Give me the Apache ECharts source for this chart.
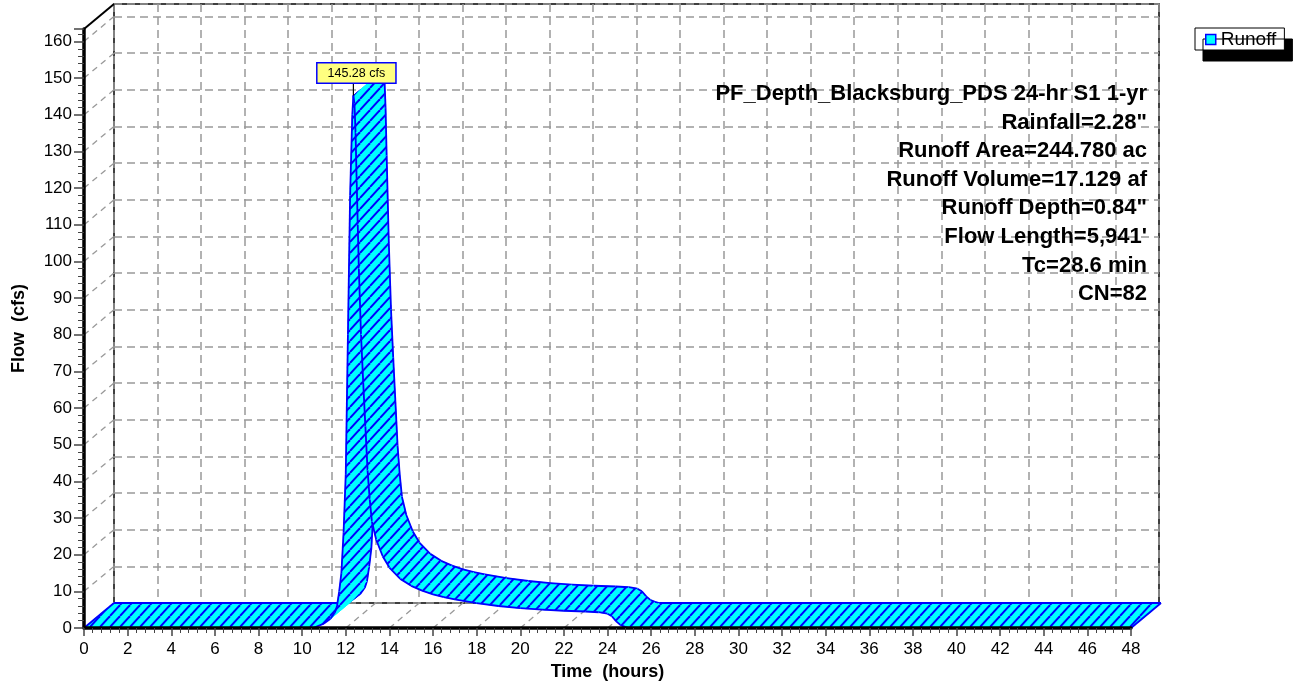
<!DOCTYPE html>
<html>
<head>
<meta charset="utf-8">
<title>Runoff hydrograph</title>
<script src="https://cdn.jsdelivr.net/npm/echarts@6/dist/echarts.min.js"></script>
<style>
html, body { margin: 0; padding: 0; background: #fff; }
#chart { width: 1294px; height: 686px; }
</style>
</head>
<body>
<div id="chart"></div>
<script>
// hydrograph (hours / cfs)
var timeHours = [0, 10.5, 11.0, 11.3, 11.5, 11.6, 11.7, 11.8, 11.9, 12.0,
	12.1, 12.2, 12.3, 12.35, 12.4, 12.45, 12.5, 12.55, 12.6, 12.7,
	12.8, 12.9, 13.0, 13.1, 13.2, 13.4, 13.7, 14.0, 14.5, 15.0,
	15.5, 16.0, 16.5, 17.0, 18.0, 19.0, 20.0, 21.0, 22.0, 23.0,
	23.6, 24.0, 24.2, 24.4, 24.6, 24.8, 25.0, 48];
var flowCfs = [0, 0, 1.2, 2.5, 4.2, 6, 10, 15, 26, 42,
	80, 118, 140, 145.28, 143, 135, 122, 110, 98, 80,
	67, 55, 43, 35, 29, 24, 19.5, 16.5, 13.4, 11.5,
	10.2, 9.2, 8.4, 7.8, 6.8, 6.0, 5.4, 5.0, 4.7, 4.5,
	4.3, 3.9, 3.2, 1.8, 0.8, 0.3, 0, 0];

var peakTime = [12.35];
var peakFlow = [145.28];

var xTickValues = [0, 2, 4, 6, 8, 10, 12, 14, 16, 18, 20, 22, 24, 26, 28, 30, 32, 34, 36, 38, 40, 42, 44, 46, 48];
var yTickValues = [0, 10, 20, 30, 40, 50, 60, 70, 80, 90, 100, 110, 120, 130, 140, 150, 160];

var infoLines = [
	'PF_Depth_Blacksburg_PDS 24-hr S1 1-yr',
	'Rainfall=2.28"',
	'Runoff Area=244.780 ac',
	'Runoff Volume=17.129 af',
	'Runoff Depth=0.84"',
	'Flow Length=5,941\'',
	'Tc=28.6 min',
	'CN=82'
];

// layout
var Y_MAX = 163.4;
var DX = 30, DY = -25;          // depth offset of the 3d back wall
var FONT = 'Arial, "Liberation Sans", sans-serif';

// hatch fill: cyan with blue diagonals
function makeHatch() {
	var c = document.createElement('canvas');
	c.width = 10; c.height = 11;
	var ctx = c.getContext('2d');
	ctx.fillStyle = '#00ffff';
	ctx.fillRect(0, 0, 10, 11);
	ctx.strokeStyle = '#0000ff';
	ctx.lineWidth = 1.9;
	[-10, 0, 10].forEach(function (o) {
		ctx.beginPath();
		ctx.moveTo(o, 11);
		ctx.lineTo(o + 10, 0);
		ctx.stroke();
	});
	return c;
}
var hatch = { image: makeHatch(), repeat: 'repeat' };

var segData = [];
for (var i = 0; i < timeHours.length - 1; i++) {
	segData.push([timeHours[i], flowCfs[i], timeHours[i + 1], flowCfs[i + 1]]);
}

var guideData = [];
yTickValues.forEach(function (v) { guideData.push([0, v]); });
xTickValues.forEach(function (t) { if (t > 0) guideData.push([t, 0]); });

function shift(p) { return [p[0] + DX, p[1] + DY]; }

var chart = echarts.init(document.getElementById('chart'));

var graphicTexts = infoLines.map(function (s, k) {
	return {
		type: 'text',
		x: 1147,
		y: 94 + k * 28.6,
		z: 20,
		style: {
			text: s,
			font: 'bold 22px ' + FONT,
			fill: '#000',
			align: 'right', textAlign: 'right',
			verticalAlign: 'middle', textVerticalAlign: 'middle'
		}
	};
});

var option = {
	animation: false,
	backgroundColor: '#fff',
	grid: [
		{ left: 84, top: 29, width: 1047, height: 599 },
		{ left: 114, top: 4, width: 1045, height: 599, show: true, borderColor: '#000', borderWidth: 1.5, backgroundColor: 'transparent' }
	],
	legend: {
		data: ['Runoff'],
		left: 1195, top: 28,
		icon: 'rect',
		itemWidth: 10, itemHeight: 10,
		padding: [2, 8, 1, 10],
		backgroundColor: '#fff',
		borderColor: '#000', borderWidth: 1,
		shadowColor: '#000', shadowBlur: 0, shadowOffsetX: 8, shadowOffsetY: 11,
		itemStyle: { color: '#00ffff', borderColor: '#0000ff', borderWidth: 1.5 },
		textStyle: { fontSize: 19, color: '#000', fontFamily: FONT }
	},
	xAxis: [{
		gridIndex: 0, type: 'value', min: 0, max: 48, interval: 2, z: 5,
		axisLine: { onZero: false, lineStyle: { color: '#000', width: 3.5 } },
		axisTick: { length: 8, lineStyle: { color: '#444', width: 1.5 } },
		minorTick: { show: true, splitNumber: 5, length: 5, lineStyle: { color: '#444', width: 1 } },
		axisLabel: { margin: 13, fontSize: 17, color: '#000', fontFamily: FONT },
		splitLine: { show: false },
		name: 'Time  (hours)', nameLocation: 'middle', nameGap: 33,
		nameTextStyle: { fontSize: 18, fontWeight: 'bold', color: '#000', fontFamily: FONT }
	}, {
		gridIndex: 1, type: 'value', min: 0, max: 48, interval: 2,
		axisLine: { show: false }, axisTick: { show: false }, axisLabel: { show: false },
		splitLine: { show: true, lineStyle: { color: '#999', width: 1.5, type: [8, 5] } }
	}],
	yAxis: [{
		gridIndex: 0, type: 'value', min: 0, max: Y_MAX, interval: 10, z: 5,
		axisLine: { show: true, onZero: false, lineStyle: { color: '#000', width: 3.5 } },
		axisTick: { show: true, length: 10, lineStyle: { color: '#444', width: 1.5 } },
		minorTick: { show: true, splitNumber: 5, length: 6, lineStyle: { color: '#444', width: 1 } },
		axisLabel: {
			margin: 12, fontSize: 17, color: '#000', fontFamily: FONT, showMaxLabel: false,
			formatter: function (v) { return v % 10 === 0 ? String(v) : ''; }
		},
		splitLine: { show: false },
		name: 'Flow  (cfs)', nameLocation: 'middle', nameGap: 56, nameRotate: 90,
		nameTextStyle: { fontSize: 18, fontWeight: 'bold', color: '#000', fontFamily: FONT }
	}, {
		gridIndex: 1, type: 'value', min: 0, max: Y_MAX, interval: 10,
		axisLine: { show: false }, axisTick: { show: false }, axisLabel: { show: false },
		splitLine: { show: true, lineStyle: { color: '#999', width: 1.5, type: [8, 5] } }
	}],
	graphic: graphicTexts,
	series: [{
		// dashed guides from the front ticks back to the wall
		type: 'custom', name: 'guides', xAxisIndex: 0, yAxisIndex: 0, z: 1, silent: true, clip: false,
		encode: { x: 0, y: 1 },
		data: guideData,
		renderItem: function (params, api) {
			var p = api.coord([api.value(0), api.value(1)]);
			return {
				type: 'line',
				shape: { x1: p[0], y1: p[1], x2: p[0] + DX, y2: p[1] + DY },
				style: { stroke: '#999', lineWidth: 1.3, lineDash: [6, 5] }
			};
		}
	}, {
		type: 'custom', name: 'Runoff', xAxisIndex: 0, yAxisIndex: 0, z: 2, clip: false,
		itemStyle: { color: '#00ffff' },
		encode: { x: [0, 2], y: [1, 3] },
		data: segData,
		renderItem: function (params, api) {
			var a = api.coord([api.value(0), api.value(1)]);
			var b = api.coord([api.value(2), api.value(3)]);
			var a2 = shift(a), b2 = shift(b);
			var edge = { stroke: '#0000ff', lineWidth: 1.8, fill: null };
			var kids = [
				{ type: 'polygon', shape: { points: [a, b, b2, a2] }, style: { fill: hatch, stroke: hatch, lineWidth: 0.8 } },
				{ type: 'polyline', shape: { points: [a, b] }, style: edge },
				{ type: 'polyline', shape: { points: [a2, b2] }, style: edge }
			];
			if (params.dataIndex === 0) {
				kids.push({ type: 'polyline', shape: { points: [a, a2] }, style: edge });
			}
			if (params.dataIndex === segData.length - 1) {
				kids.push({ type: 'polyline', shape: { points: [b, b2] }, style: edge });
			}
			return { type: 'group', children: kids };
		}
	}, {
		// top corner edge of the box
		type: 'custom', name: 'frame', xAxisIndex: 0, yAxisIndex: 0, z: 6, silent: true, clip: false,
		encode: { x: 0, y: 1 },
		data: [[0, Y_MAX]],
		renderItem: function (params, api) {
			var p = api.coord([api.value(0), api.value(1)]);
			return {
				type: 'line',
				shape: { x1: p[0], y1: p[1], x2: p[0] + DX, y2: p[1] + DY },
				style: { stroke: '#000', lineWidth: 2 }
			};
		}
	}, {
		type: 'custom', name: 'peak', xAxisIndex: 0, yAxisIndex: 0, z: 10, silent: true, clip: false,
		encode: { x: 0, y: 1 },
		data: [[peakTime[0], peakFlow[0]]],
		renderItem: function (params, api) {
			var p = api.coord([api.value(0), api.value(1)]);
			return {
				type: 'group',
				children: [{
					type: 'line',
					shape: { x1: p[0], y1: p[1], x2: p[0], y2: p[1] - 13 },
					style: { stroke: '#000', lineWidth: 1.2 }
				}, {
					type: 'text',
					x: p[0] + 3, y: p[1] - 13,
					style: {
						text: api.value(1).toFixed(2) + ' cfs',
						font: '12.5px ' + FONT,
						fill: '#000',
						align: 'center', verticalAlign: 'bottom',
						backgroundColor: '#ffff80',
						borderColor: '#0000ff', borderWidth: 1.5,
						padding: [4, 10, 2, 10]
					}
				}]
			};
		}
	}]
};

chart.setOption(option);
</script>
</body>
</html>
